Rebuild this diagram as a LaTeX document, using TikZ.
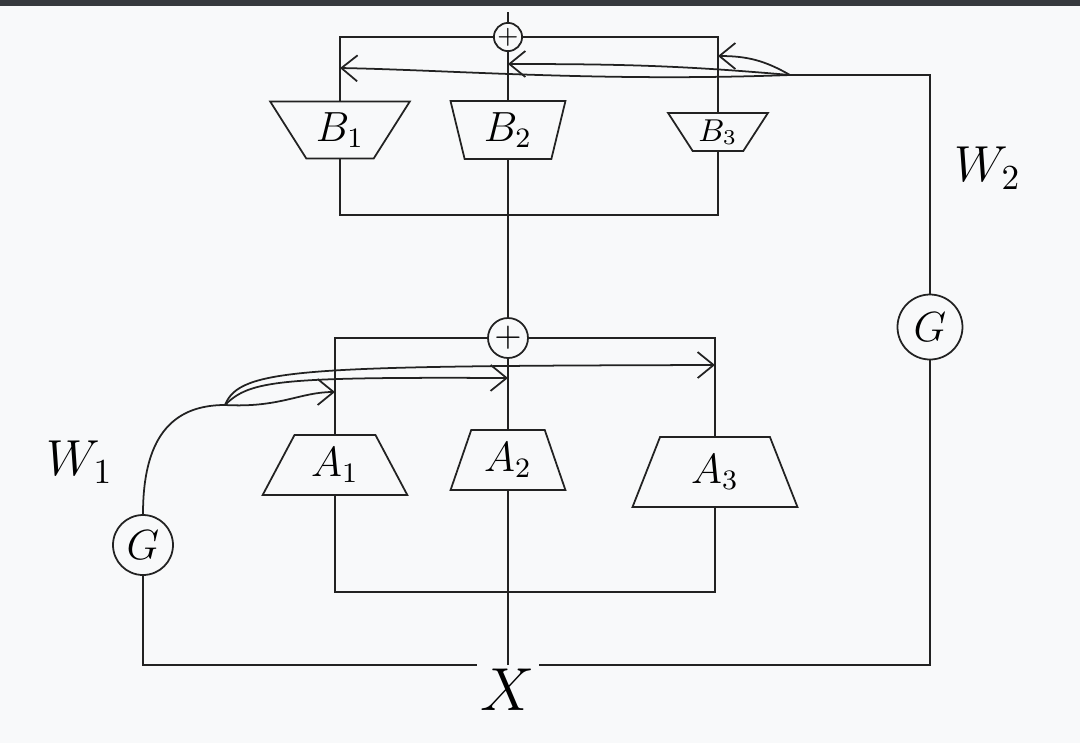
\documentclass[tikz,border=0pt]{standalone}
\usepackage{amsmath}
\usetikzlibrary{
    shapes.geometric,
    arrows.meta
}
\definecolor{paper}{HTML}{F8F9FA}
\definecolor{topbar}{HTML}{36393E}
\definecolor{ink}{HTML}{222222}
\tikzset {
    wire/.style = {draw = ink, line width = 0.5pt},
    gate arrow/.style = {wire, arrows = {-Straight Barb[length = 1.6mm, width = 2.6mm]}},
    sum vertex/.style = {circle, draw = ink, line width = 0.5pt, inner sep = 0pt, minimum size = 4mm},
    gate vertex/.style = {circle, draw = ink, line width = 0.5pt, inner sep = 0pt, minimum size = 6mm, font = \large},
    %
    expert up/.style = {
        trapezium, draw = ink, line width = 0.5pt,
        trapezium stretches = true, trapezium angle = 63,
        minimum height = 6mm, inner sep = 1pt, font = \large
    },
    expert down/.style = {expert up, shape border rotate = 180},
    label text/.style = {inner sep = 1pt, font = \Large}
}
\begin{document}
\begin{tikzpicture}[x = 0.1mm, y = -0.1mm]
    \fill [paper] (0, 0) rectangle (1080, 743);
    \fill [topbar] (0, 0) rectangle (1080, 6);
    \useasboundingbox (0, 0) rectangle (1080, 743);
    % input and gates
    \node (X) [label text, font = \LARGE] at (508, 690) {$X$};
    \node (G1) [gate vertex] at (143, 545) {$G$};
    \node (G2) [gate vertex, minimum size = 6.5mm] at (930, 327) {$G$};
    \node (W1) [label text] at (80, 462) {$W_1$};
    \node (W2) [label text] at (988, 168) {$W_2$};
    % first layer of experts
    \node (A1) [expert up, minimum width = 14.5mm] at (335, 465) {$A_1$};
    \node (A2) [expert up, minimum width = 11.5mm, trapezium angle = 70] at (508, 460) {$A_2$};
    \node (A3) [expert up, minimum width = 16.5mm, minimum height = 7mm, trapezium angle = 72] at (715, 472) {$A_3$};
    \node (S1) [sum vertex] at (508, 338) {$+$};
    % second layer of experts
    \node (B1) [expert down, minimum width = 14mm, minimum height = 5.7mm, trapezium angle = 55] at (340, 130) {$B_1$};
    \node (B2) [expert down, minimum width = 11.5mm, minimum height = 5.8mm, trapezium angle = 78] at (508, 130) {$B_2$};
    \node (B3) [expert down, minimum width = 10mm, minimum height = 3.8mm, trapezium angle = 55, font = \small] at (718, 132) {$B_3$};
    \node (S2) [sum vertex, minimum size = 2.4mm, font = \scriptsize] at (508, 37) {$+$};
    %
    \coordinate (jA) at (508, 592);
    \coordinate (jB) at (508, 215);
    \coordinate (out) at (508, 12);
    \coordinate (g1) at (225, 405);
    \coordinate (g2) at (790, 75);
    \coordinate (a1) at (335, 392);
    \coordinate (a2) at (508, 378);
    \coordinate (a3) at (715, 365);
    \coordinate (b1) at (340, 68);
    \coordinate (b2) at (508, 64);
    \coordinate (b3) at (718, 56);
    % X into the experts and gates
    \draw [wire] (X) -- (jA);
    \draw [wire] (A1.south) |- (jA) -| (A3.south);
    \draw [wire] (jA) -- (A2.south);
    \draw [wire] (X.north west) -| (G1.south);
    \draw [wire] (X.north east) -| (G2.south);
    % first layer into the sum
    \draw [wire] (A1.north) |- (S1.west);
    \draw [wire] (A2.north) -- (S1.south);
    \draw [wire] (A3.north) |- (S1.east);
    \draw [wire] (G1.north) .. controls (143, 440) and (170, 405) .. (g1);
    \draw [gate arrow] (g1) .. controls (280, 408) and (300, 392) .. (a1);
    \draw [gate arrow] (g1) .. controls (250, 380) and (280, 377) .. (a2);
    \draw [gate arrow] (g1) .. controls (240, 368) and (300, 366) .. (a3);
    % second layer
    \draw [wire] (S1.north) -- (jB);
    \draw [wire] (B1.south) |- (jB) -| (B3.south);
    \draw [wire] (jB) -- (B2.south);
    \draw [wire] (B1.north) |- (S2.west);
    \draw [wire] (B2.north) -- (S2.south);
    \draw [wire] (B3.north) |- (S2.east);
    \draw [wire] (S2.north) -- (out);
    \draw [wire] (G2.north) |- (g2);
    \draw [gate arrow] (g2) .. controls (600, 82) and (450, 70) .. (b1);
    \draw [gate arrow] (g2) to [out = 175, in = 0] (b2);
    \draw [gate arrow] (g2) to [out = 150, in = 0] (b3);
\end{tikzpicture}
\end{document}
